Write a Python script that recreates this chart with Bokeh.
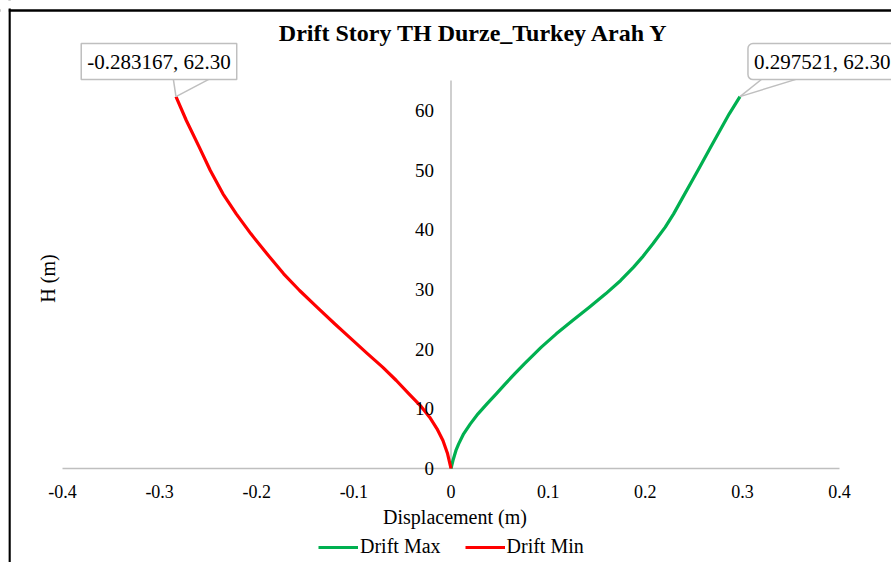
import math
from bokeh.plotting import figure
from bokeh.models import (ColumnDataSource, Label, LabelSet, Span, Legend, LegendItem, Arrow)
from bokeh.embed import file_html
from bokeh.resources import INLINE

# ---- data ----
max_h = [0, 1.34, 3.02, 4.13, 5.81, 7.48, 9.16, 10.83, 12.51, 14.18, 15.86, 17.54, 20.33,
         22.56, 24.79, 27.03, 29.26, 31.50, 33.73, 35.41, 37.64, 40.43, 42.66, 45.46, 48.25,
         50.48, 53.83, 56.63, 59.42, 62.3]
max_disp = [0, 0.0020, 0.0051, 0.0079, 0.0130, 0.0199, 0.0278, 0.0370, 0.0466, 0.0559,
            0.0655, 0.0755, 0.0930, 0.1084, 0.1252, 0.1424, 0.1592, 0.1747, 0.1880, 0.1970,
            0.2079, 0.2206, 0.2292, 0.2388, 0.2484, 0.2560, 0.2673, 0.2769, 0.2865, 0.297521]
min_h = [0, 2.46, 4.69, 6.65, 8.60, 10.55, 12.51, 14.74, 16.98, 19.21, 22.00, 24.24, 27.03,
         29.82, 32.61, 35.96, 39.31, 42.66, 46.02, 49.92, 53.83, 58.30, 62.3]
min_disp = [0, -0.0035, -0.0083, -0.0144, -0.0220, -0.0316, -0.0433, -0.0563, -0.0704,
            -0.0858, -0.1047, -0.1198, -0.1380, -0.1559, -0.1723, -0.1895, -0.2060, -0.2211,
            -0.2348, -0.2478, -0.2592, -0.2725, -0.283167]
x_ticks = [-0.4, -0.3, -0.2, -0.1, 0, 0.1, 0.2, 0.3, 0.4]
x_tick_labels = ["-0.4", "-0.3", "-0.2", "-0.1", "0", "0.1", "0.2", "0.3", "0.4"]
y_ticks = [0, 10, 20, 30, 40, 50, 60]
y_tick_labels = ["0", "10", "20", "30", "40", "50", "60"]
y_axis_max = 65
title_text = "Drift Story TH Durze_Turkey Arah Y"
x_title = "Displacement (m)"
y_title = "H (m)"
max_callout = "0.297521, 62.30"
min_callout = "-0.283167, 62.30"

# ---- layout (pixels) ----
W, H = 891, 562
PLOT_L, PLOT_R, PLOT_T, PLOT_B = 62, 839, 80, 468   # plot area inside the canvas
FONT = "Liberation Serif"
GRAY = "#bfbfbf"

X0, X1 = x_ticks[0], x_ticks[-1]
Y0, Y1 = y_ticks[0], y_axis_max
PX_X = (PLOT_R - PLOT_L) / (X1 - X0)
PX_Y = (PLOT_B - PLOT_T) / (Y1 - Y0)
x_range = (X0 - PLOT_L / PX_X, X1 + (W - PLOT_R) / PX_X)
y_range = (Y0 - (H - PLOT_B) / PX_Y, Y1 + PLOT_T / PX_Y)

p = figure(width=W, height=H, x_range=x_range, y_range=y_range,
           output_backend="svg", toolbar_location=None,
           x_axis_location=None, y_axis_location=None,
           min_border=0)
p.grid.visible = False
p.outline_line_color = None
p.background_fill_color = "white"
p.border_fill_color = "white"

# chart border (left and top)
p.add_layout(Span(location=x_range[0] + 9 / PX_X, dimension="height",
                  line_color="black", line_width=2.5))
p.add_layout(Span(location=y_range[1] - 10 / PX_Y, dimension="width",
                  line_color="black", line_width=2.5))
p.add_layout(Span(location=x_range[0] + 4 / PX_X, dimension="height",
                  line_color="white", line_width=8))
p.add_layout(Span(location=y_range[1] - 4 / PX_Y, dimension="width",
                  line_color="white", line_width=8))

# axis lines
p.segment(x0=[X0, 0], y0=[0, Y0], x1=[X1, 0], y1=[0, Y1], line_color=GRAY, line_width=1.5)

r_max = p.line(max_disp, max_h, line_color="#00b050", line_width=3.2, line_join="round")
r_min = p.line(min_disp, min_h, line_color="#ff0000", line_width=3.2, line_join="round")

ysrc = ColumnDataSource(dict(x=[0] * len(y_ticks), y=y_ticks, t=y_tick_labels))
p.add_layout(LabelSet(x="x", y="y", text="t", source=ysrc, x_offset=-17,
                      text_align="right", text_baseline="middle",
                      text_font=FONT, text_font_size="19px", text_color="black"))

xsrc = ColumnDataSource(dict(x=x_ticks, y=[0] * len(x_ticks), t=x_tick_labels))
p.add_layout(LabelSet(x="x", y="y", text="t", source=xsrc, y_offset=-23,
                      text_align="center", text_baseline="middle",
                      text_font=FONT, text_font_size="18px", text_color="black"))

p.add_layout(Label(x=0, y=0, x_offset=4, y_offset=-48, text=x_title,
                   text_align="center", text_baseline="middle",
                   text_font=FONT, text_font_size="20px", text_color="black"))

p.add_layout(Label(x=X0, y=(Y0 + Y1) / 2, x_offset=-15, y_offset=-4, text=y_title,
                   angle=math.pi / 2, text_align="center", text_baseline="middle",
                   text_font=FONT, text_font_size="20px", text_color="black"))

p.add_layout(Label(x=0, y=Y1, x_offset=23, y_offset=48, text=title_text,
                   text_align="center", text_baseline="middle",
                   text_font=FONT, text_font_size="24px", text_font_style="bold",
                   text_color="black"))

# callouts
mx, my = max_disp[-1], max_h[-1]
nx, ny = min_disp[-1], min_h[-1]
for (px, py, d1, d2) in [(nx, ny, -3, 38), (mx, my, 25, 65)]:
    for d in (d1, d2):
        p.add_layout(Arrow(end=None, x_start=px, y_start=py,
                           x_end=px + d / PX_X, y_end=py + 20 / PX_Y,
                           line_color=GRAY, line_width=1.5))

p.add_layout(Label(x=nx, y=ny, x_offset=-17, y_offset=35, text=min_callout,
                   text_align="center", text_baseline="middle",
                   text_font=FONT, text_font_size="21px", text_color="black",
                   background_fill_color="white", border_line_color=GRAY,
                   border_line_width=1.5, padding=6))
p.add_layout(Label(x=mx, y=my, x_offset=8, y_offset=35, text=max_callout,
                   text_align="left", text_baseline="middle",
                   text_font=FONT, text_font_size="21px", text_color="black",
                   background_fill_color="white", border_line_color=GRAY,
                   border_line_width=1.5, padding=6, border_radius=5))

legend = Legend(items=[LegendItem(label="Drift Max", renderers=[r_max]),
                       LegendItem(label="Drift Min", renderers=[r_min])],
                orientation="horizontal", location=(318, 4),
                label_text_font=FONT, label_text_font_size="20px", label_text_color="black",
                glyph_width=40, glyph_height=20, label_height=20, label_standoff=2,
                spacing=24, padding=0, margin=0,
                border_line_color=None, background_fill_alpha=0)
p.add_layout(legend)

open("out.html", "w").write(file_html(p, INLINE))
